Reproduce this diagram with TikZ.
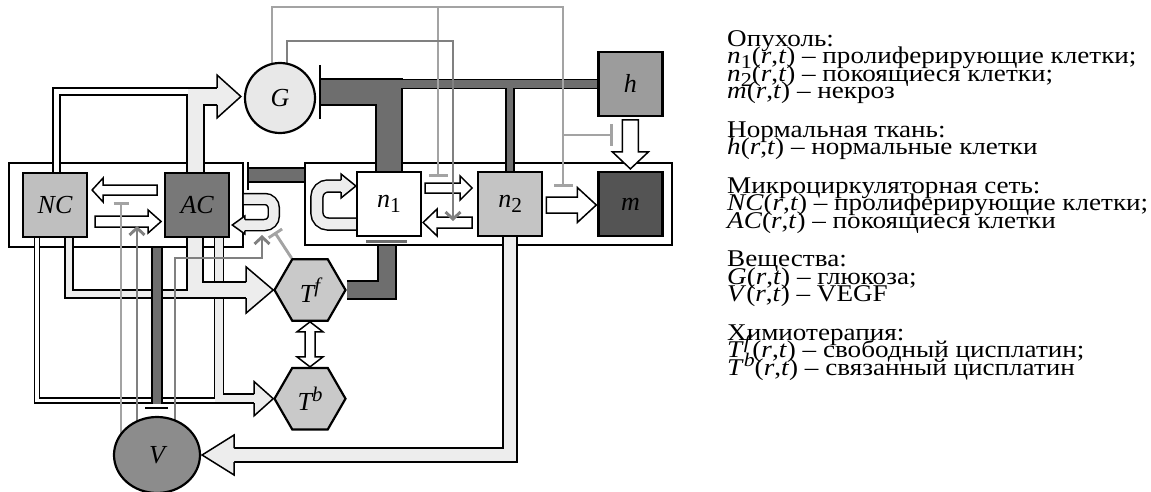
\documentclass[tikz,border=0pt]{standalone}
\usepackage{fontspec}
\setmainfont{Liberation Serif}
\newfontfamily\legfont{Liberation Serif}[FakeStretch=1.13]
\usepackage{graphicx}
\usetikzlibrary{shapes.geometric,arrows.meta,calc,positioning}

\pgfdeclarelayer{bg}
\pgfdeclarelayer{wires}
\pgfsetlayers{bg,wires,main}

\definecolor{cNC}{gray}{0.75}
\definecolor{cAC}{gray}{0.47}
\definecolor{cNtwo}{gray}{0.77}
\definecolor{cM}{gray}{0.33}
\definecolor{cH}{gray}{0.61}
\definecolor{cG}{gray}{0.91}
\definecolor{cV}{gray}{0.55}
\definecolor{cT}{gray}{0.79}
\definecolor{cD}{gray}{0.43}
\definecolor{cL}{gray}{0.93}
\definecolor{cLG}{gray}{0.64}
\definecolor{cDG}{gray}{0.5}

\lineskiplimit=-100pt

\newcommand{\iv}[1]{\textit{#1}}
\newcommand{\lo}[1]{\raisebox{-0.22em}{\upshape\scalebox{0.82}{#1}}}
\newcommand{\hi}[1]{\raisebox{0.36em}{\scalebox{0.8}{#1}}}
\newcommand{\rtarg}{(\iv{r},\iv{t})}

% outlined bands: black rim first, then the core
\newcommand{\bandrim}[2]{\draw[line width=#1pt+1.5pt, line join=miter] #2;}
\newcommand{\bandcore}[3]{\draw[line width=#1pt-1.5pt, draw=#2, line join=miter] #3;}

% straight block arrow: from, to, shaft, head width, head length
\newcommand{\blockarr}[6][white]{%
  \filldraw[fill=#1, line width=1.5pt, line join=miter]
    let \p1=(#2), \p2=(#3), \n1={atan2(\y2-\y1,\x2-\x1)}, \n2={veclen(\x2-\x1,\y2-\y1)} in
    {[shift={(\p1)}, rotate=\n1] (0,#4/2) -- (\n2-#6,#4/2) -- (\n2-#6,#5/2) -- (\n2,0)
      -- (\n2-#6,-#5/2) -- (\n2-#6,-#4/2) -- (0,-#4/2) -- cycle};}
% head only, open towards its band: base, tip, shaft, head width
\newcommand{\headarr}[5][cL]{%
  \filldraw[fill=#1, line width=1.5pt, line join=miter]
    let \p1=(#2), \p2=(#3), \n1={atan2(\y2-\y1,\x2-\x1)}, \n2={veclen(\x2-\x1,\y2-\y1)} in
    {[shift={(\p1)}, rotate=\n1] (0,#4/2) -- (0,#5/2) -- (\n2,0) -- (0,-#5/2) -- (0,-#4/2)};}
% two-headed block arrow
\newcommand{\dblarr}[6][white]{%
  \filldraw[fill=#1, line width=1.5pt, line join=miter]
    let \p1=(#2), \p2=(#3), \n1={atan2(\y2-\y1,\x2-\x1)}, \n2={veclen(\x2-\x1,\y2-\y1)} in
    {[shift={(\p1)}, rotate=\n1] (0,0) -- (#6,#5/2) -- (#6,#4/2) -- (\n2-#6,#4/2) -- (\n2-#6,#5/2)
      -- (\n2,0) -- (\n2-#6,-#5/2) -- (\n2-#6,-#4/2) -- (#6,-#4/2) -- (#6,-#5/2) -- cycle};}

\begin{document}
\begin{tikzpicture}[x=1pt, y=-1pt, line cap=butt,
  cell/.style={draw, line width=2.2pt, minimum size=64pt, inner sep=0pt,
    font=\fontsize{26}{26}\selectfont\itshape},
  pool/.style={draw, line width=1.6pt, fill=white, inner sep=0pt},
  drug/.style={regular polygon, regular polygon sides=6, draw, line width=2.2pt, fill=cT,
    minimum size=71pt, inner sep=0pt, font=\fontsize{26}{26}\selectfont\itshape},
  gl/.style={line width=2.9pt, draw=cLG},
  dl/.style={line width=2.9pt, draw=cDG},
  cut/.style={-{Bar[width=#1]}},
  pro/.style={-{Straight Barb[length=7pt,width=15pt]}},
  tbar/.style={line width=2.6pt}]
\useasboundingbox (0,0) rectangle (1151,492);

% compartments
\begin{pgfonlayer}{bg}
\node[pool, minimum width=234pt, minimum height=84pt] (vess) at (126,205) {};
\node[pool, minimum width=367pt, minimum height=82pt] (tum) at (488.5,204) {};
\end{pgfonlayer}

% cells and substances
\node[cell, fill=cNC] (NC) at (55,205) {NC};
\node[cell, fill=cAC, right=76pt of NC] (AC) {AC};
\node[cell, fill=white] (n1) at (389,204) {n\lo{1}};
\node[cell, fill=cNtwo, right=55pt of n1] (n2) {n\lo{2}};
\node[cell, fill=cM, right=54pt of n2] (m) {m};
\node[cell, fill=cH, above=54pt of m] (h) {h};
\node[circle, draw, line width=2.2pt, fill=cG, minimum size=70pt, inner sep=0pt,
  font=\fontsize{26}{26}\selectfont\itshape] (G) at (280,98) {G};
\node[ellipse, draw, line width=2.2pt, fill=cV, minimum width=86pt, minimum height=76pt,
  inner sep=0pt, font=\fontsize{26}{26}\selectfont\itshape] (V) at (157,455) {V};
\node[drug] (Tf) at (310,290) {T\hi{f}};
\node[drug, below=45pt of Tf] (Tb) {T\hi{b}};

\coordinate (gbar) at ($(G.east)+(4,-6)$);
\coordinate (vbar) at ([xshift=4pt,yshift=30pt]vess.east);
\coordinate (c5) at (387,246);
\coordinate (gtop) at (563,7);
\coordinate (gj) at (438,7);
\coordinate (gmid) at (563,135);

\begin{pgfonlayer}{wires}
% transitions between cell states
\blockarr{[xshift=-7pt,yshift=15pt]AC.west}{[xshift=4pt,yshift=15pt]NC.east}{10}{24}{11}
\blockarr{[xshift=7pt,yshift=-16.5pt]NC.east}{[xshift=-3pt,yshift=-16.5pt]AC.west}{11}{23}{13}
\blockarr{[xshift=3pt,yshift=16pt]n1.east}{[xshift=-5pt,yshift=16pt]n2.west}{10}{24}{12}
\blockarr{[xshift=-5pt,yshift=-18.5pt]n2.west}{[xshift=1pt,yshift=-18.5pt]n1.east}{11}{27}{14}
\blockarr{[xshift=3pt,yshift=-1pt]n2.east}{[xshift=-1pt,yshift=-1pt]m.west}{16}{35}{19}
\blockarr{[yshift=-3pt]h.south}{[yshift=2pt]m.north}{16}{36}{17}
\dblarr{Tf.south}{Tb.north}{10}{26}{10}

% proliferation loops
\bandrim{11}{[rounded corners=9pt] (vess.east |- 0,199) -- ++(30,0) -- ++(0,26) -- ++(-29,0)}
\bandcore{11}{cL}{[rounded corners=9pt] (vess.east |- 0,199) -- ++(30,0) -- ++(0,26) -- ++(-29,0)}
\headarr{244.8,225}{[xshift=2pt,yshift=-20pt]AC.east}{11}{18}
\bandrim{12}{[rounded corners=11pt] ([yshift=-20pt]n1.west) -- ++(-39,0) -- ++(0,-38) -- ++(24,0)}
\bandcore{12}{cL}{[rounded corners=11pt] ([yshift=-20pt]n1.west) -- ++(-39,0) -- ++(0,-38) -- ++(24,0)}
\headarr{341,186}{[yshift=18pt]n1.west}{12}{24}

% supply of glucose
\bandrim{7}{([xshift=1.5pt]NC.north) |- (190,91.5)}
\bandrim{17}{([xshift=-1.5pt]AC.north) |- (217,96.5)}
\bandcore{7}{white}{([xshift=1.5pt]NC.north) |- (190,91.5)}
\bandcore{17}{cL}{([xshift=-1.5pt]AC.north) |- (217,96.5)}
\headarr{217,96.5}{[xshift=-3pt,yshift=1.5pt]G.west}{17}{43}

% supply of the drug
\bandrim{5}{([xshift=-18pt]NC.south) |- ([xshift=-55pt,yshift=-2pt]Tb.west)}
\bandrim{9}{([xshift=22pt]AC.south) |- ([xshift=-19pt]Tb.west)}
\bandcore{5}{white}{([xshift=-18pt]NC.south) |- ([xshift=-55pt,yshift=-2pt]Tb.west)}
\bandcore{9}{cL}{([xshift=22pt]AC.south) |- ([xshift=-19pt]Tb.west)}
\headarr{[xshift=-19pt]Tb.west}{Tb.west}{9}{34}
\bandrim{8}{([xshift=14pt]NC.south) |- ([xshift=-84pt,yshift=-4pt]Tf.west)}
\bandrim{16}{([xshift=-2pt]AC.south) |- ([xshift=-27pt]Tf.west)}
\bandcore{8}{cL}{([xshift=14pt]NC.south) |- ([xshift=-84pt,yshift=-4pt]Tf.west)}
\bandcore{16}{cL}{([xshift=-2pt]AC.south) |- ([xshift=-27pt]Tf.west)}
\headarr{[xshift=-27pt]Tf.west}{Tf.west}{16}{46}

% VEGF production
\bandrim{14}{(n2.south) |- ([xshift=33pt]V.east)}
\bandcore{14}{cL}{(n2.south) |- ([xshift=33pt]V.east)}
\headarr{[xshift=33pt]V.east}{[xshift=1pt]V.east}{14}{40}

% consumption
\bandrim{26}{(n1.north) |- (gbar)}
\bandrim{9}{(h.west) -- (n1.north |- h.west)}
\bandrim{8}{(n2.north) -- (n2.north |- h.west)}
\bandcore{26}{cD}{(n1.north) |- (gbar)}
\bandcore{9}{cD}{(h.west) -- (n1.north |- h.west)}
\bandcore{8}{cD}{(n2.north) -- (n2.north |- h.west)}
\draw[tbar] ([yshift=27pt]gbar) -- ([yshift=-27pt]gbar);
\bandrim{14}{([yshift=29pt]tum.west) -- (vbar)}
\bandcore{14}{cD}{([yshift=29pt]tum.west) -- (vbar)}
\draw[tbar] ([yshift=13pt]vbar) -- ([yshift=-15pt]vbar);
\bandrim{18}{(Tf.east) -| (c5)}
\bandcore{18}{cD}{(Tf.east) -| (c5)}
\draw[line width=3pt, draw=cD] ([xshift=-23pt,yshift=-4pt]n1.south) -- ([xshift=18pt,yshift=-4pt]n1.south);
\bandrim{10}{(V.north |- vess.south) -- ([yshift=12pt]V.north)}
\bandcore{10}{cD}{(V.north |- vess.south) -- ([yshift=12pt]V.north)}
\draw[tbar] ([xshift=-12pt,yshift=8pt]V.north) -- ([xshift=11pt,yshift=8pt]V.north);

% regulation
\draw[gl, cut=19pt] ([xshift=-8pt]G.center) |- (gtop) -- ++(0,180);
\draw[gl, cut=19pt] (gj) -- ++(0,170);
\draw[gl, cut=22pt] (gmid) -- ++(50,0);
\draw[dl, pro] ([xshift=7pt]G.center) |- (453,41) -- ++(0,180);
\draw[gl, cut=15pt] ([xshift=-36pt]V.center) -- ++(0,-253);
\draw[dl, pro] ([xshift=-20pt]V.center) -- ++(0,-229);
\draw[dl, pro] ([xshift=18pt]V.center) |- (262,258) -- ++(0,-23);
\draw[gl, cut=16pt] (Tf.120) -- ++(-17,-26);
\end{pgfonlayer}

% legend
\node[anchor=north west, inner sep=0pt, align=left,
  font=\legfont\fontsize{24}{17.5}\selectfont] (legend) at (727,30) {%
Опухоль:\\
\iv{n}\lo{1}\rtarg{} – пролиферирующие клетки;\\
\iv{n}\lo{2}\rtarg{} – покоящиеся клетки;\\
\iv{m}\rtarg{} – некроз\\[21pt]
Нормальная ткань:\\
\iv{h}\rtarg{} – нормальные клетки\\[21pt]
Микроциркуляторная сеть:\\
\iv{NC}\rtarg{} – пролиферирующие клетки;\\
\iv{AC}\rtarg{} – покоящиеся клетки\\[21pt]
Вещества:\\
\iv{G}\rtarg{} – глюкоза;\\
\iv{V}\rtarg{} – VEGF\\[21pt]
Химиотерапия:\\
\iv{T}\hi{\iv{f}}\rtarg{} – свободный цисплатин;\\
\iv{T}\hi{\iv{b}}\rtarg{} – связанный цисплатин};
\end{tikzpicture}
\end{document}
